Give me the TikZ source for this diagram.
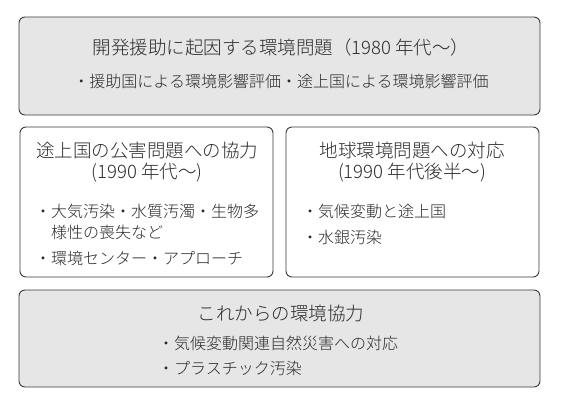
\documentclass[tikz,border=0pt]{standalone}
\usepackage{fontspec}
\setmainfont{Noto Sans CJK JP}[UprightFont=* Light]
\usetikzlibrary{positioning}
\definecolor{boxgray}{HTML}{E6E6E6}
\definecolor{linegray}{HTML}{3A3A3A}
\definecolor{txtgray}{HTML}{2A2A2A}
\tikzset {
    x=1pt,
    y=-1pt,
    box/.style={draw=linegray, line width=0.9pt, rounded corners=6pt, inner sep=0pt},
    graybox/.style={box, fill=boxgray},
    whitebox/.style={box, fill=white},
    title/.style={text=txtgray, align=center, inner sep=0pt, font=\fontsize{18.5}{21}\selectfont},
    item/.style={text=txtgray, anchor=west, inner sep=0pt, font=\fontsize{16}{19}\selectfont}
}

\begin{document}
\begin{tikzpicture}
    \useasboundingbox (0,0) rectangle (562,405);

    % boxes
    \node[graybox, minimum width=521pt, minimum height=98pt] (era80) at (279.5,66) {};
    \node[whitebox, minimum width=253pt, minimum height=150pt] (era90) at (146.5,202) {};
    \node[whitebox, minimum width=253pt, minimum height=150pt] (era90late) at (412.5,202) {};
    \node[graybox, minimum width=521pt, minimum height=97pt] (future) at (279.5,338.5) {};

    % 1980s
    \node[title] (era80title) at (281,47) {開発援助に起因する環境問題（1980 年代〜）};
    \node[item, anchor=center] (era80item) at (281,81) {・援助国による環境影響評価・途上国による環境影響評価};

    % 1990s
    \node[title] (era90title) at (147,162) {途上国の公害問題への協力\\(1990 年代〜)};
    \node[item] (era90a) at (35,211) {・大気汚染・水質汚濁・生物多};
    \node[item] (era90b) at (51,232) {様性の喪失など};
    \node[item] (era90c) at (35,258) {・環境センター・アプローチ};

    % late 1990s
    \node[title] (era90latetitle) at (412,162) {地球環境問題への対応\\(1990 年代後半〜)};
    \node[item] (era90latea) at (302,211) {・気候変動と途上国};
    \node[item] (era90lateb) at (302,237) {・水銀汚染};

    % future
    \node[title] (futuretitle) at (281,313) {これからの環境協力};
    \node[item] (futurea) at (158,343) {・気候変動関連自然災害への対応};
    \node[item] (futureb) at (158,368) {・プラスチック汚染};
\end{tikzpicture}
\end{document}
